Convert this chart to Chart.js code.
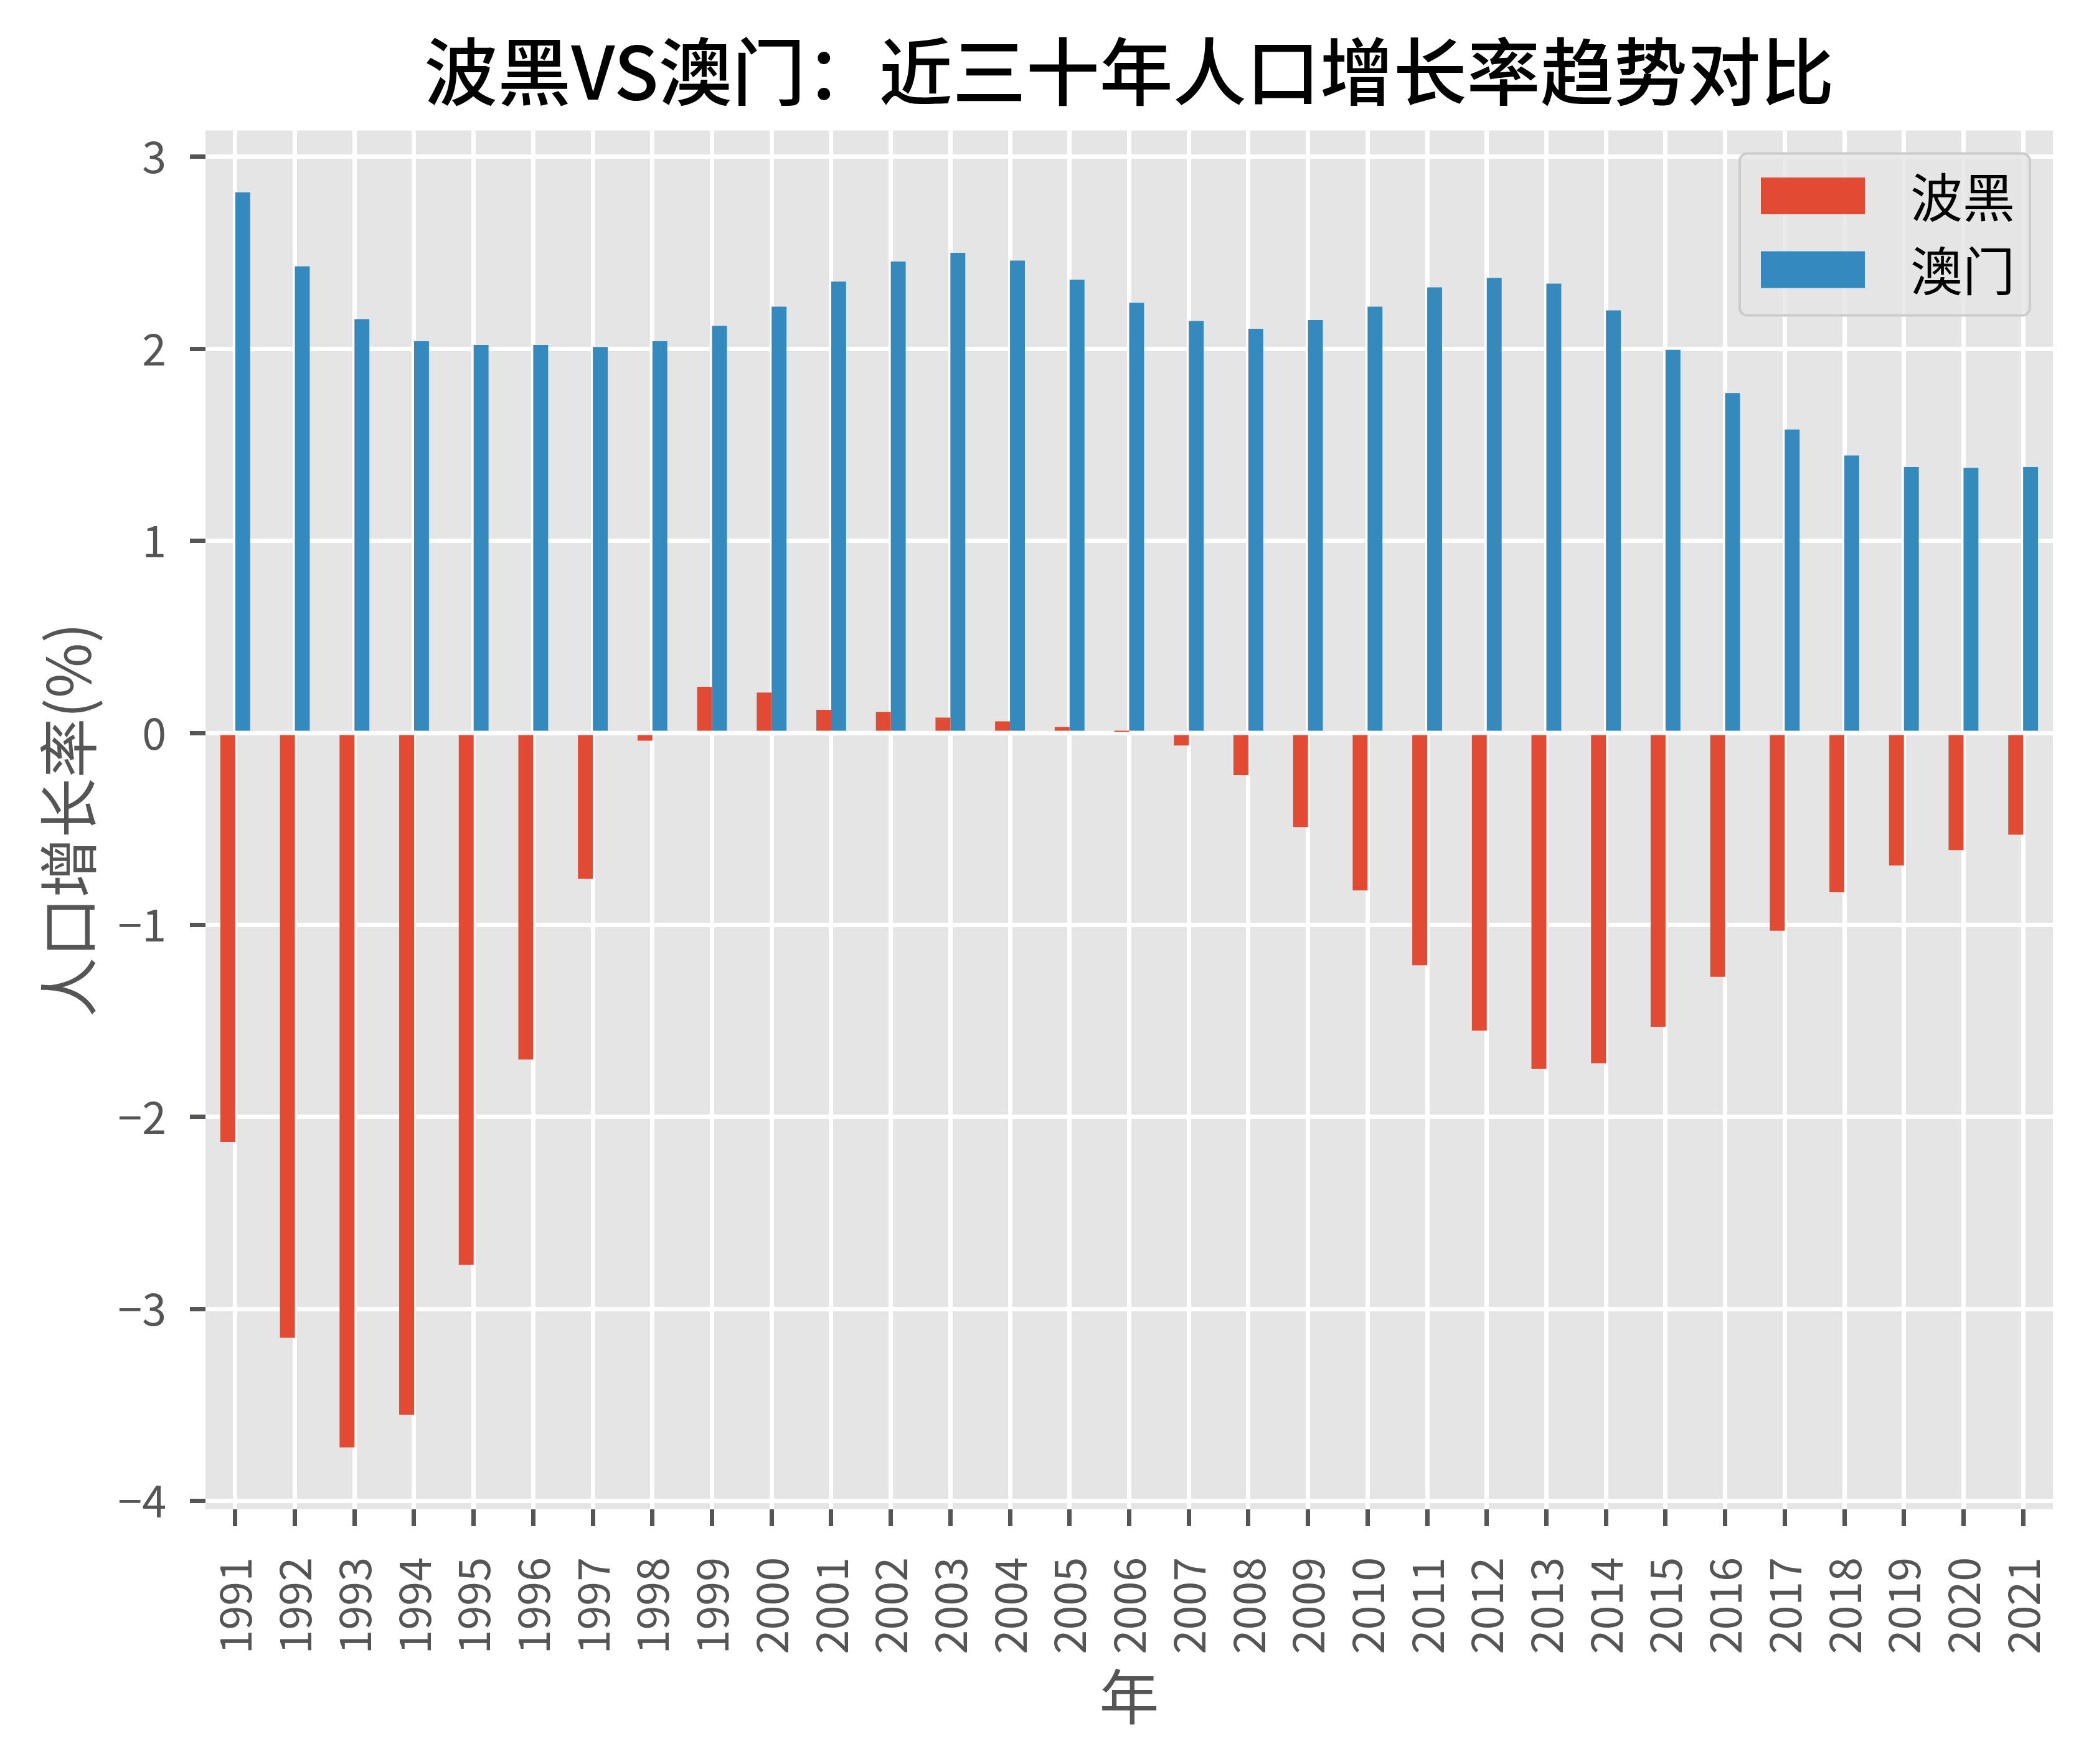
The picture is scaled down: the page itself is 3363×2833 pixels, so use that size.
<!DOCTYPE html>
<html>
<head>
<meta charset="utf-8">
<script src="https://cdn.jsdelivr.net/npm/chart.js@4.4.1/dist/chart.umd.min.js"></script>
<style>
  html, body { margin: 0; padding: 0; background: #fff; }
  #wrap { width: 3363px; height: 2833px; }
</style>
</head>
<body>
<div id="wrap"><canvas id="growthChart" width="3363" height="2833"></canvas></div>
<script>
// 年份
const years = ['1991', '1992', '1993', '1994', '1995', '1996', '1997', '1998', '1999', '2000',
    '2001', '2002', '2003', '2004', '2005', '2006', '2007', '2008', '2009', '2010',
    '2011', '2012', '2013', '2014', '2015', '2016', '2017', '2018', '2019', '2020', '2021'];

// 人口增长率 (%)
const bosniaGrowth = [-2.13, -3.15, -3.72, -3.55, -2.77, -1.70, -0.76, -0.04, 0.24, 0.21,
    0.12, 0.11, 0.08, 0.06, 0.03, 0.005, -0.065, -0.22, -0.49, -0.82,
    -1.21, -1.55, -1.75, -1.72, -1.53, -1.27, -1.03, -0.83, -0.69, -0.61, -0.53];
const macauGrowth = [2.815, 2.43, 2.155, 2.04, 2.02, 2.02, 2.01, 2.04, 2.12, 2.22,
    2.35, 2.455, 2.50, 2.46, 2.36, 2.24, 2.145, 2.105, 2.15, 2.22,
    2.32, 2.37, 2.34, 2.20, 1.995, 1.77, 1.58, 1.445, 1.385, 1.38, 1.385];

const seriesNames = ['波黑', '澳门'];
const yTicks = [-4, -3, -2, -1, 0, 1, 2, 3];

const CJK = '"Noto Sans CJK SC", "Noto Sans", sans-serif';
const GREY = '#555555';

// gray plot background (ggplot style)
const plotBackground = {
    id: 'plotBackground',
    beforeDraw(chart) {
        const a = chart.chartArea;
        const ctx = chart.ctx;
        ctx.save();
        ctx.fillStyle = '#E5E5E5';
        ctx.fillRect(a.left, a.top, a.right - a.left, a.bottom - a.top);
        ctx.restore();
    }
};

// legend box in upper right corner of the plot
const cornerLegend = {
    id: 'cornerLegend',
    afterDraw(chart) {
        const a = chart.chartArea;
        const ctx = chart.ctx;
        const w = 466, h = 260;
        const x = a.right - 37 - w;
        const y = a.top + 37;
        ctx.save();
        ctx.beginPath();
        ctx.roundRect(x, y, w, h, 12);
        ctx.fillStyle = 'rgba(229, 229, 229, 0.8)';
        ctx.fill();
        ctx.lineWidth = 4;
        ctx.strokeStyle = '#CCCCCC';
        ctx.stroke();

        ctx.font = '84px ' + CJK;
        ctx.textBaseline = 'middle';
        chart.data.datasets.forEach((ds, i) => {
            const cy = y + 68 + i * 118.5;
            ctx.fillStyle = ds.backgroundColor;
            ctx.fillRect(x + 34, cy - 29.5, 167, 59);
            ctx.fillStyle = '#000';
            ctx.fillText(ds.label, x + 274, cy + 2);
        });
        ctx.restore();
    }
};

new Chart(document.getElementById('growthChart'), {
    type: 'bar',
    data: {
        labels: years,
        datasets: [{
            label: seriesNames[0],
            data: bosniaGrowth,
            backgroundColor: '#E24A33',
            borderWidth: 0,
            categoryPercentage: 0.5,
            barPercentage: 1.0
        }, {
            label: seriesNames[1],
            data: macauGrowth,
            backgroundColor: '#348ABD',
            borderWidth: 0,
            categoryPercentage: 0.5,
            barPercentage: 1.0
        }]
    },
    options: {
        responsive: false,
        devicePixelRatio: 1,
        animation: false,
        layout: { padding: { left: 0, right: 66, top: 0, bottom: 0 } },
        plugins: {
            legend: { display: false },
            tooltip: { enabled: false },
            title: {
                display: true,
                fullSize: false,
                text: '波黑VS澳门：近三十年人口增长率趋势对比',
                color: '#000',
                font: { family: CJK, size: 118, weight: '500', lineHeight: 1.2 },
                padding: { top: 44, bottom: 24 }
            }
        },
        scales: {
            x: {
                offset: true,
                grid: {
                    offset: false,
                    color: '#FFFFFF',
                    lineWidth: 7,
                    drawTicks: true,
                    tickLength: 27,
                    tickColor: GREY,
                    tickWidth: 7
                },
                border: { display: false },
                ticks: {
                    autoSkip: false,
                    maxRotation: 90,
                    minRotation: 90,
                    padding: 50,
                    color: GREY,
                    font: { family: CJK, size: 70 }
                },
                title: {
                    display: true,
                    text: '年',
                    color: GREY,
                    font: { family: CJK, size: 96, lineHeight: 1.2 },
                    padding: { top: 51, bottom: 51 }
                },
                afterFit(scale) {
                    scale.height = 409;
                    scale.paddingLeft = 0;
                    scale.paddingRight = 0;
                }
            },
            y: {
                min: -4.043,
                max: 3.137,
                afterBuildTicks(scale) {
                    scale.ticks = yTicks.map(v => ({ value: v }));
                },
                grid: {
                    color: '#FFFFFF',
                    lineWidth: 7,
                    drawTicks: true,
                    tickLength: 25,
                    tickColor: GREY,
                    tickWidth: 7
                },
                border: { display: false },
                ticks: {
                    padding: 38,
                    color: GREY,
                    font: { family: CJK, size: 70 },
                    callback: function(value) {
                        return String(value).replace('-', '\u2212');
                    }
                },
                title: {
                    display: true,
                    text: '人口增长率(%)',
                    color: GREY,
                    font: { family: CJK, size: 96, lineHeight: 1.2 },
                    padding: { top: 52, bottom: 0 }
                },
                afterFit(scale) { scale.width = 330; }
            }
        }
    },
    plugins: [plotBackground, cornerLegend]
});
</script>
</body>
</html>
